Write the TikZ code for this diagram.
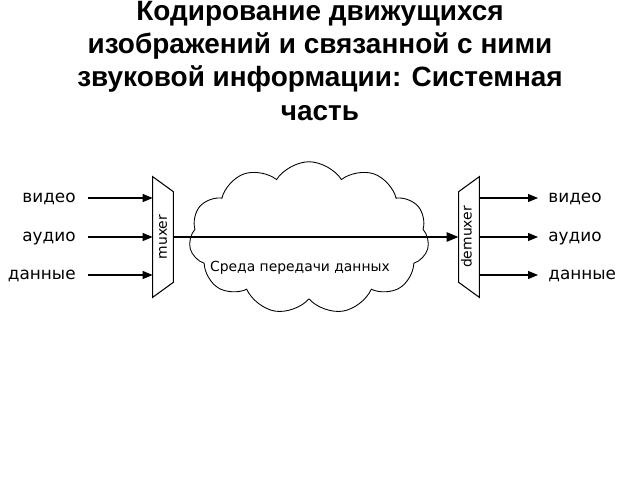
\documentclass[tikz,border=0pt]{standalone}
\usepackage{fontspec}
\setmainfont{DejaVu Sans}
\newfontfamily\titlefont{Liberation Sans}
\usetikzlibrary{shapes.symbols, arrows.meta, positioning}

\tikzset{
  title/.style={font=\titlefont\bfseries\fontsize{15.9}{18.9}\selectfont, align=center, inner sep=0pt},
  lbl/.style={font=\fontsize{9.6}{11}\selectfont, inner sep=0pt, text height=5.2pt, text depth=0pt},
  small/.style={font=\fontsize{7.9}{9}\selectfont, inner sep=0pt},
  box/.style={inner sep=0pt, minimum width=0.4cm, minimum height=2.4cm},
  medium/.style={cloud, draw, cloud puffs=11, cloud puff arc=115, cloud ignores aspect,
    minimum width=4.8cm, minimum height=3.05cm, line width=0.5pt},
  arr/.style={line width=0.6pt, -{Triangle[length=2mm, width=1.6mm]}},
  bus/.style={line width=1.4pt, -{Triangle[length=2.4mm, width=1.8mm]}}
}

\begin{document}
\begin{tikzpicture}[x=0.02cm, y=-0.02cm]
    \useasboundingbox (0,0) rectangle (640,480);

    % Title (base anchor sits on the last line)
    \node[title, anchor=base] (title) at (320,120) {Кодирование движущихся\\изображений и связанной с ними\\звуковой информации: Системная\\часть};

    % Transmission medium
    \node[medium] (cloud) at (309,238) {};
    \node[small] (cloudtxt) at (300,268) {Среда передачи данных};

    % Multiplexer (long side on the left)
    \node[box] (mux) at (163,237) {};
    \draw[line width=0.6pt] (mux.north west) -- (mux.south west) -- ([yshift=0.3cm]mux.south east) -- ([yshift=-0.3cm]mux.north east) -- cycle;
    \node[small, rotate=90] (muxtxt) at (mux.center) {muxer};

    % Demultiplexer (long side on the right)
    \node[box] (demux) at (469,237) {};
    \draw[line width=0.6pt] ([yshift=-0.3cm]demux.north west) -- ([yshift=0.3cm]demux.south west) -- (demux.south east) -- (demux.north east) -- cycle;
    \node[small, rotate=90] (demuxtxt) at ([xshift=-0.05cm]demux.center) {demuxer};

    % Inputs and outputs
    \foreach \n/\txt/\y in {vid/видео/198, aud/аудио/237, dat/данные/275} {
        \node[lbl, anchor=east] (in\n) at (76,\y) {\txt};
        \draw[arr] ([xshift=0.24cm]in\n.east) -- (in\n -| mux.west);
        \node[lbl, anchor=west] (out\n) at (548,\y) {\txt};
        \draw[arr] (out\n -| demux.east) -- ([xshift=-0.2cm]out\n.west);
    }

    % Stream through the medium
    \draw[bus] (mux.east) -- (demux.west);
\end{tikzpicture}
\end{document}
